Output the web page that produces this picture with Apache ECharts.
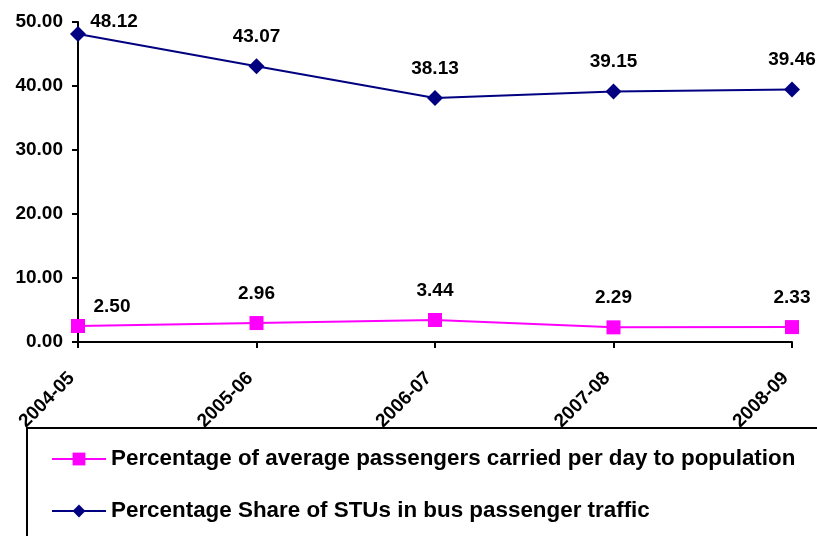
<!DOCTYPE html>
<html>
<head>
<meta charset="utf-8">
<script src="https://cdn.jsdelivr.net/npm/echarts@6/dist/echarts.min.js"></script>
<style>
  html, body { margin: 0; padding: 0; background: #fff; }
  #chart { width: 817px; height: 536px; }
</style>
</head>
<body>
<div id="chart"></div>
<script>
var years = ['2004-05', '2005-06', '2006-07', '2007-08', '2008-09'];
var passengersPerDay = [2.50, 2.96, 3.44, 2.29, 2.33];
var stuShare = [48.12, 43.07, 38.13, 39.15, 39.46];
var yTicks = [0, 10, 20, 30, 40, 50];

var FONT = 'Liberation Sans';
var chart = echarts.init(document.getElementById('chart'));

function labelFmt(p) { return p.value.toFixed(2); }

var option = {
    animation: false,
    textStyle: { fontFamily: FONT },
    grid: { left: 78, right: 25, top: 22, bottom: 194 },
    // legend frame, running off the right and bottom edges
    graphic: [{
        type: 'rect',
        shape: { x: 27, y: 428, width: 900, height: 200 },
        style: { fill: 'none', stroke: '#000', lineWidth: 2 },
        z: -1
    }],
    legend: {
        orient: 'vertical',
        left: 46,
        top: 443,
        itemGap: 30,
        itemWidth: 54,
        itemHeight: 16,
        textStyle: { fontFamily: FONT, fontWeight: 'bold', fontSize: 22.4, color: '#000' },
        data: ['Percentage of average passengers carried per day to population',
               'Percentage Share of STUs in bus passenger traffic']
    },
    xAxis: {
        type: 'category',
        data: years,
        boundaryGap: false,
        axisLine: { lineStyle: { color: '#000', width: 2 } },
        axisTick: { alignWithLabel: true, length: 6, lineStyle: { color: '#000', width: 2 } },
        axisLabel: {
            rotate: 45, color: '#000', fontWeight: 'bold', fontSize: 19, fontFamily: FONT,
            margin: 27, padding: [0, 9, 0, 0]
        }
    },
    yAxis: {
        type: 'value',
        min: yTicks[0],
        max: yTicks[yTicks.length - 1],
        interval: 10,
        splitLine: { show: false },
        axisLine: { show: true, lineStyle: { color: '#000', width: 2 } },
        axisTick: { show: true, length: 6, lineStyle: { color: '#000', width: 2 } },
        axisLabel: {
            color: '#000', fontWeight: 'bold', fontSize: 19, fontFamily: FONT, margin: 15,
            formatter: function (v) { return v.toFixed(2); }
        }
    },
    series: [
        {
            name: 'Percentage of average passengers carried per day to population',
            type: 'line',
            data: passengersPerDay,
            symbol: 'rect',
            symbolSize: 14,
            itemStyle: { color: '#FF00FF' },
            lineStyle: { color: '#FF00FF', width: 2 },
            label: {
                show: true, position: 'top', distance: 13, formatter: labelFmt,
                color: '#000', fontWeight: 'bold', fontSize: 19, fontFamily: FONT
            },
            labelLayout: function (params) {
                if (params.dataIndex === 0) {
                    return { dx: 34, dy: 10 };
                }
                return {};
            }
        },
        {
            name: 'Percentage Share of STUs in bus passenger traffic',
            type: 'line',
            data: stuShare,
            symbol: 'diamond',
            symbolSize: 16,
            itemStyle: { color: '#000080' },
            lineStyle: { color: '#000080', width: 2 },
            label: {
                show: true, position: 'top', distance: 12, formatter: labelFmt,
                color: '#000', fontWeight: 'bold', fontSize: 19, fontFamily: FONT
            },
            labelLayout: function (params) {
                if (params.dataIndex === 0) {
                    return { dx: 36, dy: 17 };
                }
                return {};
            }
        }
    ]
};

chart.setOption(option);
</script>
</body>
</html>
